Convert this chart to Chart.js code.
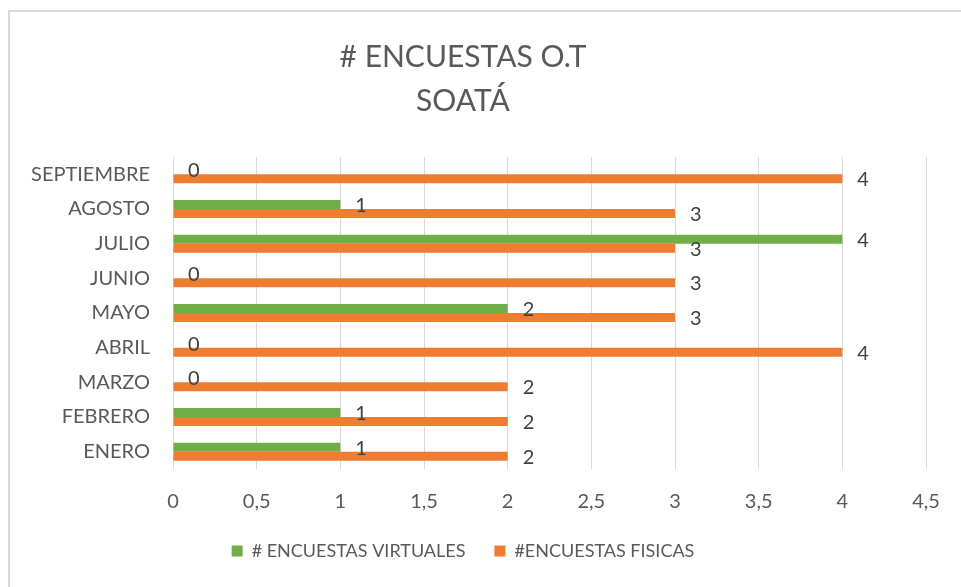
<!DOCTYPE html>
<html>
<head>
<meta charset="utf-8">
<script src="https://cdn.jsdelivr.net/npm/chart.js@4/dist/chart.umd.min.js"></script>
<style>
    html, body { margin: 0; padding: 0; background: #fff; overflow: hidden; }
    #frame { position: absolute; left: 8px; top: 10px; width: 1000px; height: 700px; border: 2px solid #d9d9d9; }
    #wrap { position: absolute; left: 0; top: 0; width: 961px; height: 587px; }
</style>
</head>
<body>
<div id="frame"></div>
<div id="wrap"><canvas id="surveyChart" width="961" height="587"></canvas></div>
<script>
const months = ['ENERO', 'FEBRERO', 'MARZO', 'ABRIL', 'MAYO', 'JUNIO', 'JULIO', 'AGOSTO', 'SEPTIEMBRE'];
const virtuales = [1, 1, 0, 0, 2, 0, 4, 1, 0];
const fisicas = [2, 2, 2, 4, 3, 3, 3, 3, 4];
const xTickLabels = ['0', '0,5', '1', '1,5', '2', '2,5', '3', '3,5', '4', '4,5'];

const textColor = '#595959';

// values written to the right of every bar, like the excel data labels
const valueLabels = {
    id: 'valueLabels',
    afterDatasetsDraw(chart) {
        const ctx = chart.ctx;
        ctx.save();
        ctx.font = '20px Lato';
        ctx.fillStyle = '#404040';
        ctx.textAlign = 'left';
        ctx.textBaseline = 'middle';
        chart.data.datasets.forEach((ds, i) => {
            chart.getDatasetMeta(i).data.forEach((bar, j) => {
                ctx.fillText(String(ds.data[j]), bar.x + 15, bar.y + 1);
            });
        });
        ctx.restore();
    }
};

const ctx = document.getElementById('surveyChart').getContext('2d');

new Chart(ctx, {
    type: 'bar',
    data: {
        labels: months,
        datasets: [{
            label: '# ENCUESTAS VIRTUALES',
            data: virtuales,
            backgroundColor: '#70AD47'
        }, {
            label: '#ENCUESTAS FISICAS',
            data: fisicas,
            backgroundColor: '#ED7D31'
        }]
    },
    options: {
        indexAxis: 'y',
        responsive: false,
        animation: false,
        layout: { padding: { left: 0, right: 35, top: 0, bottom: 17 } },
        datasets: {
            bar: { categoryPercentage: 0.52, barPercentage: 1 }
        },
        scales: {
            x: {
                min: 0,
                max: 4.5,
                ticks: {
                    stepSize: 0.5,
                    color: textColor,
                    font: { family: 'Lato', size: 20 },
                    padding: 21,
                    maxRotation: 0,
                    autoSkip: false,
                    callback: (value, index) => xTickLabels[index]
                },
                grid: { color: '#d9d9d9', lineWidth: 1, drawTicks: false },
                border: { display: false },
                afterFit: (scale) => { scale.height = 44; }
            },
            y: {
                reverse: true,
                ticks: {
                    color: textColor,
                    font: { family: 'Lato', size: 20 },
                    padding: 23
                },
                grid: { display: false, drawTicks: false },
                border: { display: false },
                afterFit: (scale) => { scale.width = 173; }
            }
        },
        plugins: {
            title: {
                display: true,
                text: ['# ENCUESTAS O.T', 'SOATÁ'],
                color: textColor,
                font: { family: 'Lato', size: 30, weight: 'normal', lineHeight: 1.45 },
                padding: { top: 36, bottom: 34 }
            },
            legend: {
                position: 'bottom',
                labels: {
                    color: textColor,
                    font: { family: 'Lato', size: 18 },
                    boxWidth: 11,
                    boxHeight: 11,
                    padding: 29
                }
            },
            tooltip: { enabled: false }
        }
    },
    plugins: [valueLabels]
});
</script>
</body>
</html>
